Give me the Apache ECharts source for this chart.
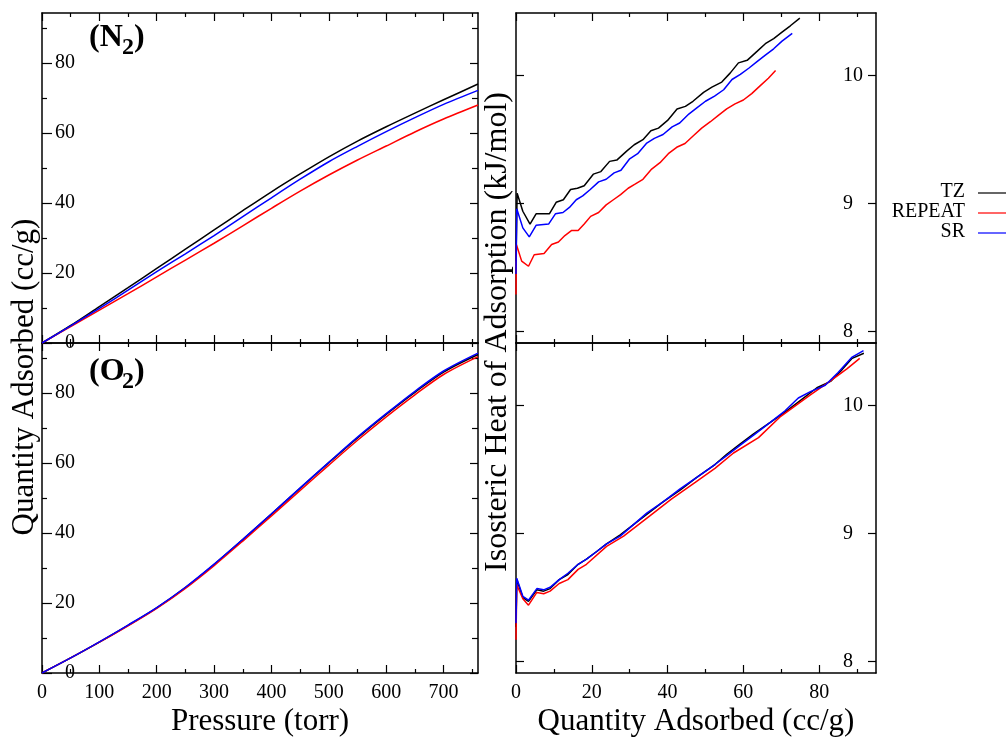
<!DOCTYPE html>
<html>
<head>
<meta charset="utf-8">
<script src="https://cdn.jsdelivr.net/npm/echarts@6/dist/echarts.min.js"></script>
<style>
html,body{margin:0;padding:0;background:#fff;}
#chart{width:1007px;height:740px;}
</style>
</head>
<body>
<div id="chart"></div>
<script>
// ---------------- data ----------------
const pressure = [0,50,100,150,200,250,300,350,400,450,500,550,600,650,700,760];
const n2TZ     = [0,5.0,10.4,15.8,21.3,26.8,32.3,37.8,43.2,48.3,53.2,57.7,61.8,65.7,69.5,74.0];
const n2REPEAT = [0,4.7,9.4,14.1,18.9,23.7,28.5,33.5,38.5,43.4,48.0,52.3,56.3,60.3,64.0,68.0];
const n2SR     = [0,4.9,9.9,15.1,20.4,25.5,30.7,36.1,41.5,46.8,51.8,56.2,60.4,64.4,68.2,72.2];
const o2TZ     = [0,4.3,8.8,13.6,18.6,24.4,31.0,38.1,45.4,52.8,60.1,67.2,73.9,80.2,86.0,91.0];
const o2REPEAT = [0,4.3,8.8,13.5,18.5,24.2,30.7,37.7,44.9,52.2,59.4,66.5,73.2,79.5,85.3,90.4];
const o2SR     = [0,4.3,8.9,13.7,18.7,24.5,31.1,38.2,45.5,52.9,60.2,67.4,74.1,80.5,86.3,91.4];

// isosteric heat [quantity adsorbed, kJ/mol]
const heatN2TZ = [[0,8.55],[0.3,9.08],[1.8,8.94],[3.7,8.84],[5.3,8.92],[8.8,8.92],[10.6,9.01],[12.5,9.03],[14.4,9.11],[16.2,9.12],[18,9.14],[20.4,9.23],[22.4,9.25],[24.7,9.33],[26.6,9.34],[29.2,9.41],[31.2,9.46],[33.5,9.50],[35.6,9.57],[37.6,9.59],[40,9.65],[42.5,9.74],[44.7,9.76],[46.7,9.80],[49.5,9.87],[51.7,9.91],[54.3,9.95],[56.5,10.02],[58.7,10.10],[61,10.12],[63.6,10.19],[65.8,10.25],[68,10.29],[70.2,10.34],[72.4,10.39],[74.9,10.45]];
const heatN2REPEAT = [[0,8.29],[0.1,8.68],[1.5,8.55],[3.3,8.51],[4.8,8.60],[7.4,8.61],[9.4,8.68],[11.2,8.70],[12.9,8.75],[14.7,8.79],[16.4,8.79],[18,8.84],[19.7,8.90],[21.8,8.93],[23.8,8.99],[25.7,9.03],[27.6,9.07],[29.6,9.12],[31.3,9.15],[33.5,9.19],[35.8,9.27],[38,9.32],[40.2,9.39],[42.4,9.44],[44.6,9.47],[46.8,9.53],[49,9.59],[51.3,9.64],[53.4,9.69],[55.6,9.74],[57.8,9.78],[60,9.81],[62.2,9.86],[64.4,9.92],[66.6,9.98],[68.5,10.04]];
const heatN2SR = [[0,8.45],[0.2,8.96],[1.8,8.81],[3.5,8.74],[5.3,8.83],[8.6,8.84],[10.4,8.92],[12.4,8.93],[14.1,8.97],[15.9,9.03],[17.6,9.06],[19.6,9.11],[21.8,9.17],[23.8,9.19],[25.9,9.24],[27.7,9.26],[30,9.35],[32.1,9.39],[34.4,9.47],[36.5,9.51],[38.8,9.54],[41.2,9.60],[43.2,9.63],[45.6,9.70],[47.8,9.75],[50,9.80],[52.4,9.84],[54.8,9.89],[57,9.97],[59.2,10.01],[61.5,10.06],[63.6,10.11],[65.8,10.16],[68,10.21],[70.2,10.27],[72.9,10.33]];
const heatO2TZ = [[0,8.27],[0.2,8.64],[1.8,8.50],[3.3,8.47],[5.5,8.56],[7.3,8.55],[9,8.57],[11.4,8.64],[13.7,8.68],[16.4,8.76],[18.6,8.80],[21.3,8.86],[23.9,8.92],[27.5,8.99],[31,9.07],[34.5,9.15],[38.9,9.25],[43.3,9.34],[47.7,9.44],[52.5,9.54],[55.6,9.62],[59.1,9.70],[62.7,9.78],[67.1,9.87],[71,9.95],[75,10.04],[79.4,10.14],[83,10.19],[86,10.28],[88.7,10.37],[91.8,10.41]];
const heatO2REPEAT = [[0,8.17],[0.2,8.60],[1.8,8.49],[3.3,8.44],[5.5,8.54],[7.3,8.53],[9,8.55],[11.4,8.61],[13.7,8.64],[16.4,8.72],[18.6,8.76],[23.9,8.90],[28.4,8.98],[35.4,9.14],[41,9.27],[47.3,9.40],[52.5,9.51],[57.4,9.63],[64,9.75],[69.6,9.91],[77.5,10.08],[82.8,10.19],[87.4,10.29],[90.7,10.37]];
const heatO2SR = [[0,8.30],[0.2,8.65],[1.8,8.51],[3.3,8.48],[5.5,8.57],[7.3,8.56],[9,8.58],[11.4,8.64],[13.7,8.69],[16.4,8.76],[18.6,8.80],[21.3,8.86],[23.9,8.92],[27.5,8.98],[31,9.07],[34.5,9.16],[38.9,9.25],[43.3,9.35],[47.7,9.44],[52.5,9.54],[55.6,9.61],[59.1,9.69],[62.7,9.77],[67.1,9.87],[71,9.96],[74.5,10.06],[77.7,10.11],[81.6,10.16],[85,10.26],[88.7,10.38],[91.7,10.43]];

// tick labels
const pressureTicks = [0,100,200,300,400,500,600,700];
const pressureMinor = [50,150,250,350,450,550,650,750];
const quantityTicks = [0,20,40,60,80];
const quantityMinor = [10,30,50,70,90];
const heatTicks = [8,9,10];

const seriesNames = ['TZ','REPEAT','SR'];
const seriesColors = ['#000000','#ff0000','#0000ff'];

// ---------------- layout ----------------
const FONT = '"Liberation Serif","Times New Roman",serif';
const LINE = {color:'#000', width:1.5};
const grids = [
  {left:42, top:13, width:436, height:330},
  {left:42, top:343, width:436, height:330},
  {left:516, top:13, width:360, height:330},
  {left:516, top:343, width:360, height:330}
];

const xAxis = [], yAxis = [];
function addX(gi, min, max, major, minor, showLabels, name) {
  const c = {type:'value', gridIndex:gi, min:min, max:max, splitLine:{show:false}};
  xAxis.push(Object.assign({}, c, {
    position:'bottom',
    axisLine:{show:true, onZero:false, lineStyle:LINE},
    axisTick:{show:true, inside:true, length:8, customValues:major, lineStyle:{color:'#000', width:1.2}},
    axisLabel:{show:showLabels, customValues:major, margin:10, fontSize:20, color:'#000', fontFamily:FONT},
    name: name || '', nameLocation:'middle', nameGap:33,
    nameTextStyle:{fontSize:31, color:'#000', fontFamily:FONT}
  }));
  xAxis.push(Object.assign({}, c, {
    position:'bottom', axisLine:{show:false, onZero:false},
    axisTick:{show:true, inside:true, length:4, customValues:minor, lineStyle:{color:'#000', width:1.2}},
    axisLabel:{show:false}
  }));
  xAxis.push(Object.assign({}, c, {
    position:'top', axisLine:{show:true, onZero:false, lineStyle:LINE},
    axisTick:{show:true, inside:true, length:8, customValues:major, lineStyle:{color:'#000', width:1.2}},
    axisLabel:{show:false}
  }));
  xAxis.push(Object.assign({}, c, {
    position:'top', axisLine:{show:false, onZero:false},
    axisTick:{show:true, inside:true, length:4, customValues:minor, lineStyle:{color:'#000', width:1.2}},
    axisLabel:{show:false}
  }));
}
function addY(gi, min, max, major, minor, labelSide) {
  const c = {type:'value', gridIndex:gi, min:min, max:max, splitLine:{show:false}};
  const lab = {customValues:major, inside:true, margin:33, fontSize:20, color:'#000', fontFamily:FONT};
  yAxis.push(Object.assign({}, c, {
    position:'left',
    axisLine:{show:true, onZero:false, lineStyle:LINE},
    axisTick:{show:true, inside:true, length:labelSide==='left'?10:8, customValues:major, lineStyle:{color:'#000', width:1.2}},
    axisLabel: labelSide==='left' ? Object.assign({show:true, align:'right'}, lab) : {show:false}
  }));
  yAxis.push(Object.assign({}, c, {
    position:'left', axisLine:{show:false, onZero:false},
    axisTick:{show:minor.length>0, inside:true, length:5, customValues:minor.length?minor:[min], lineStyle:{color:'#000', width:1.2}},
    axisLabel:{show:false}
  }));
  yAxis.push(Object.assign({}, c, {
    position:'right',
    axisLine:{show:true, onZero:false, lineStyle:LINE},
    axisTick:{show:true, inside:true, length:8, customValues:major, lineStyle:{color:'#000', width:1.2}},
    axisLabel: labelSide==='right' ? Object.assign({show:true, align:'left'}, lab) : {show:false}
  }));
  yAxis.push(Object.assign({}, c, {
    position:'right', axisLine:{show:false, onZero:false},
    axisTick:{show:minor.length>0, inside:true, length:6, customValues:minor.length?minor:[min], lineStyle:{color:'#000', width:1.2}},
    axisLabel:{show:false}
  }));
}

addX(0, 0, 760, pressureTicks, pressureMinor, false);
addX(1, 0, 760, pressureTicks, pressureMinor, true, 'Pressure (torr)');
addX(2, 0, 95, quantityTicks, quantityMinor, false);
addX(3, 0, 95, quantityTicks, quantityMinor, true, 'Quantity Adsorbed (cc/g)');
addY(0, 0, 94.3, quantityTicks, quantityMinor, 'left');
addY(1, 0, 94.3, quantityTicks, quantityMinor, 'left');
addY(2, 7.91, 10.49, heatTicks, [], 'right');
addY(3, 7.91, 10.49, heatTicks, [], 'right');

function pairs(xs, ys){ return xs.map((x,i)=>[x, ys[i]]); }
const panelData = [
  [pairs(pressure,n2TZ), pairs(pressure,n2REPEAT), pairs(pressure,n2SR)],
  [pairs(pressure,o2TZ), pairs(pressure,o2REPEAT), pairs(pressure,o2SR)],
  [heatN2TZ, heatN2REPEAT, heatN2SR],
  [heatO2TZ, heatO2REPEAT, heatO2SR]
];
const series = [];
panelData.forEach((set, gi) => {
  set.forEach((d, k) => {
    series.push({
      name: seriesNames[k], type:'line', xAxisIndex: gi*4, yAxisIndex: gi*4,
      data: d, showSymbol:false, smooth: gi<2 ? 0.3 : false,
      lineStyle:{color:seriesColors[k], width:1.5}, itemStyle:{color:seriesColors[k]},
      z: 2+k, silent:true
    });
  });
});

// text / legend graphics
const graphic = [];
function txt(x, y, s, size, opts) {
  graphic.push({type:'text', x:x, y:y, silent:true,
    style:Object.assign({text:s, fontSize:size, fontFamily:FONT, fill:'#000', textAlign:'left', textVerticalAlign:'middle'}, opts||{})});
}
// panel labels
[[0,'N'],[334,'O']].forEach(([dy, el]) => {
  txt(89, 38+dy, '(' + el, 32, {fontWeight:'bold'});
  txt(122, 48+dy, '2', 24, {fontWeight:'bold'});
  txt(134, 38+dy, ')', 32, {fontWeight:'bold'});
});
// y-axis titles
graphic.push({type:'text', x:25, y:377, rotation:Math.PI/2, silent:true,
  style:{text:'Quantity Adsorbed (cc/g)', fontSize:31, fontFamily:FONT, fill:'#000', textAlign:'center', textVerticalAlign:'middle'}});
graphic.push({type:'text', x:498, y:332, rotation:Math.PI/2, silent:true,
  style:{text:'Isosteric Heat of Adsorption (kJ/mol)', fontSize:32, fontFamily:FONT, fill:'#000', textAlign:'center', textVerticalAlign:'middle'}});
// legend
seriesNames.forEach((n, k) => {
  const y = 192 + k*20;
  txt(965, y, n, 20, {textAlign:'right'});
  graphic.push({type:'line', silent:true, shape:{x1:978, y1:y+1, x2:1006, y2:y+1},
    style:{stroke:seriesColors[k], lineWidth:1.2}});
});

const chart = echarts.init(document.getElementById('chart'), null, {renderer:'canvas'});
chart.setOption({
  animation:false,
  backgroundColor:'#fff',
  grid: grids,
  xAxis: xAxis,
  yAxis: yAxis,
  series: series,
  graphic: graphic
});
</script>
</body>
</html>
